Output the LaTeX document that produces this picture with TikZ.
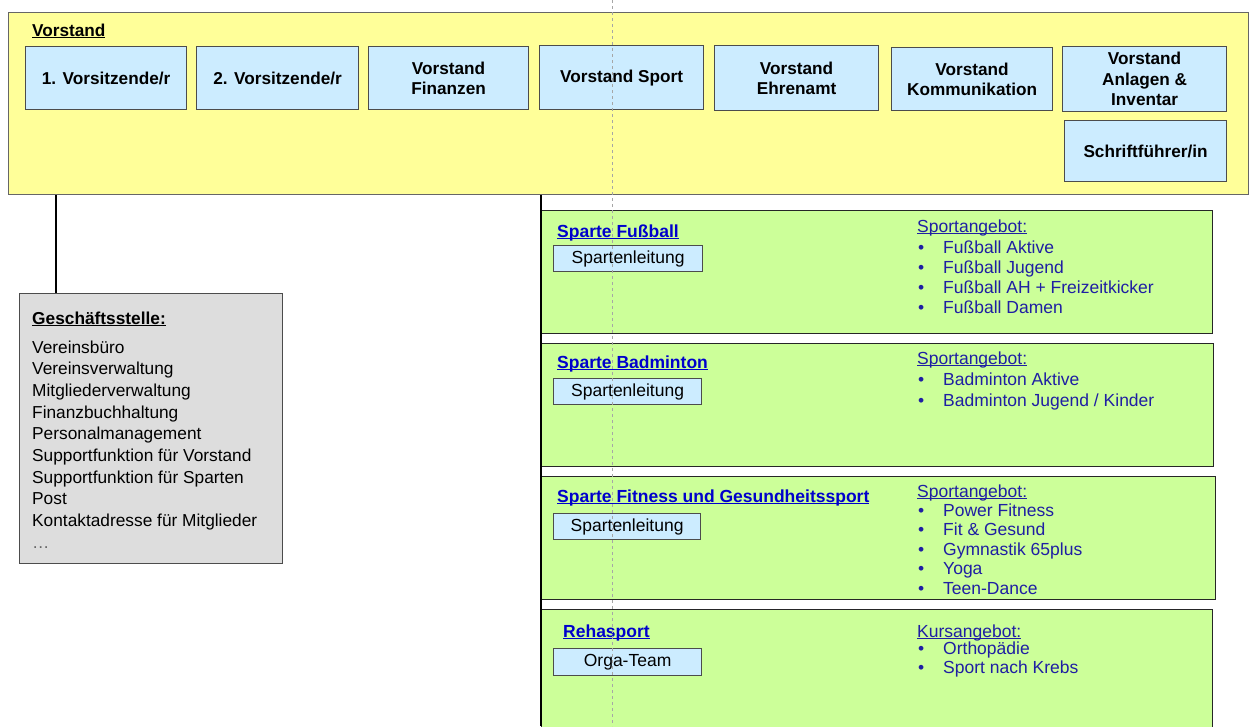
\documentclass[tikz,border=0pt]{standalone}
\usepackage{fontspec}
\setmainfont{Liberation Sans}
\usepackage{xcolor}
\definecolor{vsyellow}{HTML}{FFFF99}
\definecolor{vsblue}{HTML}{CCECFF}
\definecolor{spgreen}{HTML}{CCFF99}
\definecolor{gsgray}{HTML}{DDDDDD}
\definecolor{titleblue}{HTML}{0000CC}
\definecolor{itemblue}{HTML}{1F1FA3}
\newcommand{\spbullet}{\makebox[25pt][l]{\textbullet}}
\newcommand{\ulbase}[1]{\underline{\smash{#1}}}

\begin{document}
\begin{tikzpicture}[x=1pt,y=-1pt,
  boxframe/.style={draw=black!70,line width=1.2pt,anchor=north west,inner sep=0pt},
  vsbox/.style={boxframe,fill=vsblue,align=center,font=\fontsize{17.2}{20.5}\selectfont\bfseries},
  leitung/.style={boxframe,fill=vsblue,font=\fontsize{17.5}{20}\selectfont},
  sparte/.style={boxframe,fill=spgreen,draw=black!85},
  sptitle/.style={anchor=base west,inner sep=0pt,font=\fontsize{17.5}{20}\selectfont\bfseries,text=titleblue},
  angebot/.style={anchor=base west,inner sep=0pt,font=\fontsize{17.5}{20}\selectfont,text=itemblue},
  gsline/.style={anchor=base west,inner sep=0pt,font=\fontsize{17.3}{20}\selectfont},
  conn/.style={line width=2.5pt}]
  \clip (0,0) rectangle (1255,726);
  \fill[white] (0,0) rectangle (1255,726);

  % Vorstand
  \node[boxframe,fill=vsyellow,draw=black!60,minimum width=1240,minimum height=182] (vorstand) at (8,12) {};
  \node[gsline,font=\fontsize{17.2}{20}\selectfont\bfseries] (vstitle) at (32,36) {\ulbase{Vorstand}};
  \node[vsbox,minimum width=161,minimum height=63] (v1) at (25,46) {1. Vorsitzende/r};
  \node[vsbox,minimum width=162,minimum height=63] (v2) at (196,46) {2. Vorsitzende/r};
  \node[vsbox,minimum width=160,minimum height=63] (v3) at (368,46) {Vorstand\\Finanzen};
  \node[vsbox,minimum width=164,minimum height=64] (v4) at (539,45) {Vorstand Sport};
  \node[vsbox,minimum width=164,minimum height=65] (v5) at (714,45) {Vorstand\\Ehrenamt};
  \node[vsbox,minimum width=161,minimum height=63] (v6) at (891,47) {Vorstand\\Kommunikation};
  \node[vsbox,minimum width=164,minimum height=65] (v7) at (1062,46) {Vorstand\\Anlagen \&\\Inventar};
  \node[vsbox,minimum width=162,minimum height=61] (v8) at (1064,120) {Schriftführer/in};

  % Geschaeftsstelle
  \node[boxframe,fill=gsgray,minimum width=263,minimum height=270] (gs) at (19,293) {};
  \node[gsline,font=\fontsize{17.3}{20}\selectfont\bfseries] (gstitle) at (32,324) {\ulbase{Geschäftsstelle:}};
  \foreach \t [count=\i] in {Vereinsbüro,Vereinsverwaltung,Mitgliederverwaltung,Finanzbuchhaltung,
      Personalmanagement,Supportfunktion für Vorstand,Supportfunktion für Sparten,Post,
      Kontaktadresse für Mitglieder,\textcolor{black!60}{\textellipsis}}
    \node[gsline] (gs\i) at (32,{353+21.7*(\i-1)}) {\t};

  % Sparte Fussball
  \node[sparte,minimum width=671,minimum height=123] (sp1) at (541,210) {};
  \node[sptitle] (sp1title) at (557,237) {\ulbase{Sparte Fußball}};
  \node[leitung,minimum width=149,minimum height=26] (sp1lt) at (553,245) {Spartenleitung};
  \node[angebot] (sp1ang) at (917,232) {\ulbase{Sportangebot:}};
  \foreach \t [count=\i] in {Fußball Aktive,Fußball Jugend,Fußball AH + Freizeitkicker,Fußball Damen}
    \node[angebot] (sp1a\i) at (918,{253+20.3*(\i-1)}) {\spbullet\t};

  % Sparte Badminton
  \node[sparte,minimum width=672,minimum height=123] (sp2) at (541,343) {};
  \node[sptitle] (sp2title) at (557,368) {\ulbase{Sparte Badminton}};
  \node[leitung,minimum width=148,minimum height=26] (sp2lt) at (553,378) {Spartenleitung};
  \node[angebot] (sp2ang) at (917,364) {\ulbase{Sportangebot:}};
  \foreach \t [count=\i] in {Badminton Aktive,Badminton Jugend / Kinder}
    \node[angebot] (sp2a\i) at (918,{385+21*(\i-1)}) {\spbullet\t};

  % Sparte Fitness
  \node[sparte,minimum width=674,minimum height=123] (sp3) at (541,476) {};
  \node[sptitle] (sp3title) at (557,502) {\ulbase{Sparte Fitness und Gesundheitssport}};
  \node[leitung,minimum width=147,minimum height=26] (sp3lt) at (553,513) {Spartenleitung};
  \node[angebot] (sp3ang) at (917,497) {\ulbase{Sportangebot:}};
  \foreach \t [count=\i] in {Power Fitness,Fit \& Gesund,Gymnastik 65plus,Yoga,Teen-Dance}
    \node[angebot] (sp3a\i) at (918,{516+19.5*(\i-1)}) {\spbullet\t};

  % Rehasport
  \node[sparte,minimum width=671,minimum height=140] (sp4) at (541,609) {};
  \node[sptitle] (sp4title) at (563,637) {\ulbase{Rehasport}};
  \node[leitung,minimum width=148,minimum height=27] (sp4lt) at (553,648) {Orga-Team};
  \node[angebot] (sp4ang) at (917,637) {\ulbase{Kursangebot:}};
  \foreach \t [count=\i] in {Orthopädie,Sport nach Krebs}
    \node[angebot] (sp4a\i) at (918,{654+19*(\i-1)}) {\spbullet\t};

  % Verbindungen
  \coordinate (gsTop) at (56,293);
  \coordinate (spineEnd) at (541,726);
  \draw[conn] (gsTop |- vorstand.south) -- (gsTop);
  \draw[conn] (spineEnd |- vorstand.south) -- (spineEnd);
  \draw[black!35,dashed,line width=0.6pt] (612,0) -- (612,726);
\end{tikzpicture}
\end{document}
